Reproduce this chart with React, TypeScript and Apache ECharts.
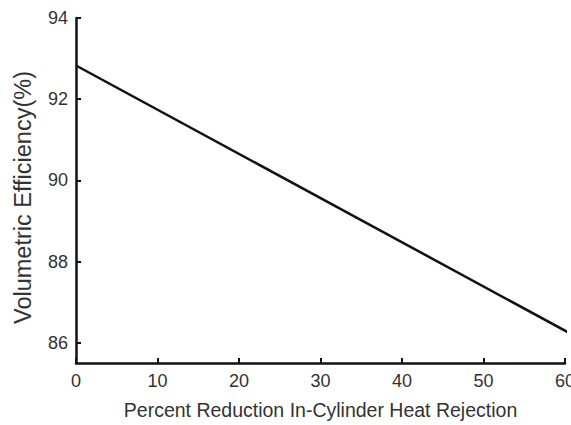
import React, { useEffect, useRef } from "react";
import * as echarts from "echarts";

const xValues = [0, 60.7];
const yValues = [92.83, 86.22];
const xTicks = [0, 10, 20, 30, 40, 50, 60];
const yTicks = [86, 88, 90, 92, 94];

export default function App() {
  const ref = useRef<HTMLDivElement>(null);
  useEffect(() => {
    const chart = echarts.init(ref.current!, null, { renderer: "svg" });
    const font = "Liberation Sans, Arial, sans-serif";
    chart.setOption({
      animation: false,
      backgroundColor: "#fff",
      grid: {
        left: 76,
        top: 18,
        right: 6,
        bottom: 62,
        containLabel: false,
        outerBoundsMode: "none",
      },
      xAxis: {
        type: "value",
        min: xTicks[0],
        max: xTicks[xTicks.length - 1],
        interval: 10,
        name: "Percent Reduction In-Cylinder Heat Rejection",
        nameLocation: "middle",
        nameGap: 37,
        nameTextStyle: { fontSize: 19.5, color: "#333", fontFamily: font },
        axisLine: { lineStyle: { color: "#111", width: 2.5 } },
        axisTick: { inside: true, length: 5, lineStyle: { color: "#111", width: 2 } },
        axisLabel: { fontSize: 18, color: "#333", fontFamily: font, margin: 9 },
        splitLine: { show: false },
      },
      yAxis: {
        type: "value",
        min: 85.5,
        max: 94,
        interval: 2,
        name: "Volumetric Efficiency(%)",
        nameLocation: "middle",
        nameGap: 41,
        nameTextStyle: {
          fontSize: 23.5,
          color: "#333",
          fontFamily: font,
          padding: [0, 14, 0, 0],
        },
        axisLine: { show: true, lineStyle: { color: "#111", width: 2.5 } },
        axisTick: {
          show: true,
          inside: true,
          length: 5,
          lineStyle: { color: "#111", width: 2 },
          customValues: yTicks,
        },
        axisLabel: {
          fontSize: 18,
          color: "#333",
          fontFamily: font,
          margin: 8,
          customValues: yTicks,
        },
        splitLine: { show: false },
      },
      series: [
        {
          type: "line",
          data: xValues.map((x, i) => [x, yValues[i]]),
          symbol: "none",
          clip: false,
          lineStyle: { color: "#111", width: 2.5 },
        },
      ],
    });
    return () => chart.dispose();
  }, []);
  return (
    <div
      ref={ref}
      style={{ position: "absolute", left: 0, top: 0, width: 571, height: 425 }}
    />
  );
}
